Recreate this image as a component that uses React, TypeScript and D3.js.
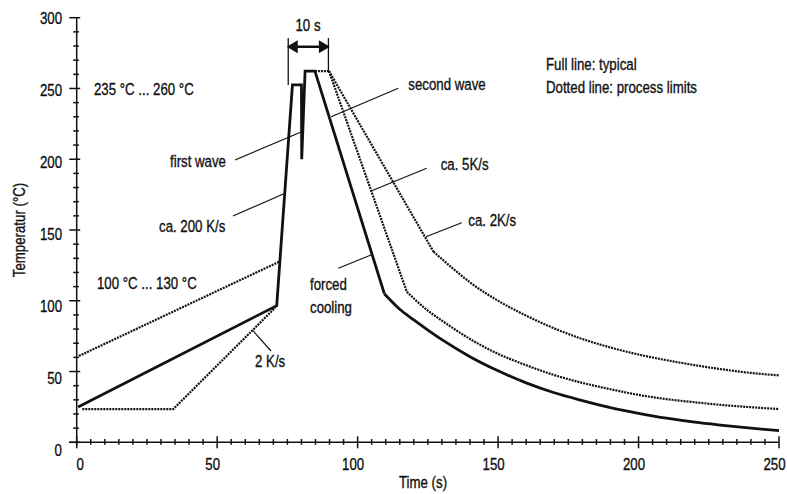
import React, { useEffect, useRef } from "react";
import * as d3 from "d3";

const WIDTH = 787;
const HEIGHT = 494;
const FONT = "'Liberation Sans', Arial, sans-serif";
const SQUEEZE = 0.78; // narrow look of the original lettering

const xTicks = [0, 50, 100, 150, 200, 250];
const yTicks = [0, 50, 100, 150, 200, 250, 300];

// full line: typical profile (preheat, first wave, second wave, forced cooling)
const typicalProfile: [number, number][] = [
  [0.5, 25], [71.2, 96.5], [76.8, 252.5], [80, 252.5], [80.1, 200],
  [81.3, 262.3], [84.8, 262.3], [109.5, 105],
];
const typicalCooling: [number, number][] = [
  [109.5, 105], [115, 94], [120, 86.5], [130, 72.5], [140, 60.5], [150, 50.5],
  [160, 42], [170, 35], [180, 29.5], [190, 24.5], [200, 20.5], [210, 17],
  [220, 14.2], [230, 12], [240, 10], [250, 8.2],
];

// dotted lines: process limits
const upperPreheat: [number, number][] = [[0.8, 61], [72, 127.5]];
const lowerPreheat: [number, number][] = [[2, 23.5], [34.4, 23.5], [70.6, 95]];
const peakLimit: [number, number][] = [[84.8, 262.3], [89.8, 262.3]];
const fastDrop: [number, number][] = [[89.8, 262.3], [117.5, 106.4]];
const fastCooling: [number, number][] = [
  [117.5, 106.4], [125, 93], [130, 86], [140, 73], [150, 62.5], [160, 54.5],
  [170, 47.5], [180, 42], [190, 37.5], [200, 33.5], [210, 30.5], [220, 28.3],
  [230, 26.3], [240, 24.8], [250, 23.5],
];
const slowDrop: [number, number][] = [[89.8, 262.3], [127, 134.7]];
const slowCooling: [number, number][] = [
  [127, 134.7], [135, 121], [140, 113], [150, 100], [160, 89.5], [170, 80.5],
  [180, 73], [190, 67], [200, 62], [210, 58], [220, 54.5], [230, 51.5],
  [240, 49], [250, 47.3],
];

// 10 s bracket, in seconds
const bracketStart = 75.3;
const bracketEnd = 89.6;

export default function App() {
  const ref = useRef<SVGSVGElement | null>(null);

  useEffect(() => {
    const svg = d3.select(ref.current);
    svg.selectAll("*").remove();

    const x = d3.scaleLinear().domain([0, 250]).range([76.7, 779]);
    const y = d3.scaleLinear().domain([0, 300]).range([442.3, 17.7]);
    const yLabel = d3.scaleLinear().domain([0, 300]).range([450, 18.2]);

    const ink = "#111";

    // axes
    const axes = svg.append("g").attr("stroke", ink).attr("stroke-width", 1.5);
    axes.append("line").attr("x1", x(0)).attr("x2", x(0)).attr("y1", y(300)).attr("y2", y(0) + 3);
    axes.append("line").attr("x1", x(0) - 7.5).attr("x2", x(250)).attr("y1", y(0)).attr("y2", y(0));

    const yMinor = d3.range(0, 301, 10).filter(v => v % 50 !== 0);
    const xMinor = d3.range(0, 251, 5).filter(v => v % 50 !== 0);

    axes.selectAll(".ymaj").data(yTicks).join("line")
      .attr("class", "ymaj")
      .attr("x1", x(0) - 7.5).attr("x2", x(0) + 3.5)
      .attr("y1", d => y(d)).attr("y2", d => y(d));
    axes.selectAll(".ymin").data(yMinor).join("line")
      .attr("class", "ymin")
      .attr("x1", x(0) - 3.5).attr("x2", x(0) + 2.2)
      .attr("y1", d => y(d)).attr("y2", d => y(d));
    axes.selectAll(".xmaj").data(xTicks).join("line")
      .attr("class", "xmaj")
      .attr("x1", d => x(d)).attr("x2", d => x(d))
      .attr("y1", y(0) - 6).attr("y2", y(0) + 6);
    axes.selectAll(".xmin").data(xMinor).join("line")
      .attr("class", "xmin")
      .attr("x1", d => x(d)).attr("x2", d => x(d))
      .attr("y1", y(0) - 3.3).attr("y2", y(0) + 2.5);

    const text = svg.append("g")
      .attr("font-family", FONT)
      .attr("font-size", 17)
      .attr("fill", ink)
      .attr("stroke", ink)
      .attr("stroke-width", 0.35);

    const label = (str: string | number, px: number, py: number, anchor = "start", rotate = 0) =>
      text.append("text")
        .attr("transform", `translate(${px},${py})${rotate ? ` rotate(${rotate})` : ""} scale(${SQUEEZE},1)`)
        .attr("text-anchor", anchor)
        .text(str);

    yTicks.forEach(v => label(v, 62, yLabel(v), "end").attr("dy", "0.36em"));
    xTicks.forEach(v => label(v, v === 0 ? x(v) + 3.5 : x(v) - 4.5, 470, "middle"));

    label("Time (s)", 423, 488, "middle");
    label("Temperatur (°C)", 25, 230, "middle", -90);

    // curves
    const line = d3.line<[number, number]>().x(d => x(d[0])).y(d => y(d[1]));
    const smooth = d3.line<[number, number]>().x(d => x(d[0])).y(d => y(d[1])).curve(d3.curveMonotoneX);

    const solid = svg.append("g").attr("fill", "none").attr("stroke", ink)
      .attr("stroke-width", 2.8).attr("stroke-linejoin", "miter");
    solid.append("path").attr("d", line(typicalProfile));
    solid.append("path").attr("d", smooth(typicalCooling));

    const dotted = svg.append("g").attr("fill", "none").attr("stroke", ink)
      .attr("stroke-width", 2.2).attr("stroke-dasharray", "2,1");
    [upperPreheat, lowerPreheat, peakLimit, fastDrop, slowDrop].forEach(s =>
      dotted.append("path").attr("d", line(s)));
    [fastCooling, slowCooling].forEach(s =>
      dotted.append("path").attr("d", smooth(s)));

    // 10 s bracket
    const br = svg.append("g").attr("stroke", ink).attr("stroke-width", 1.3);
    br.append("line").attr("x1", x(bracketStart)).attr("x2", x(bracketStart)).attr("y1", 38).attr("y2", y(252.5));
    br.append("line").attr("x1", x(bracketEnd)).attr("x2", x(bracketEnd)).attr("y1", 38).attr("y2", y(262.3));
    br.append("line").attr("x1", x(bracketStart) + 4).attr("x2", x(bracketEnd) - 4)
      .attr("y1", 46.7).attr("y2", 46.7).attr("stroke-width", 2.4);
    const l0 = x(bracketStart) - 1.5, r0 = x(bracketEnd) + 1.5;
    svg.append("polygon").attr("fill", ink)
      .attr("points", `${l0},46.7 ${l0 + 11},40.2 ${l0 + 11},53.2`);
    svg.append("polygon").attr("fill", ink)
      .attr("points", `${r0},46.7 ${r0 - 11},40.2 ${r0 - 11},53.2`);
    label("10 s", 308, 31, "middle");

    // leader lines
    const leaders = [
      [235, 160, x(80.1), 131.7],
      [233, 216, 284.5, 193.5],
      [398.3, 88.3, 331.2, 116.7],
      [338.3, 268.3, 371, 255],
      [426.7, 168.3, 371.7, 190.7],
      [461.7, 222.7, 426, 236.7],
      [271, 351, 253, 330.7],
    ];
    svg.append("g").attr("stroke", ink).attr("stroke-width", 1.2)
      .selectAll("line").data(leaders).join("line")
      .attr("x1", d => d[0]).attr("y1", d => d[1])
      .attr("x2", d => d[2]).attr("y2", d => d[3]);

    const notes: [string, number, number][] = [
      ["235 °C ... 260 °C", 94, 95],
      ["first wave", 170, 166.7],
      ["ca. 200 K/s", 159, 232],
      ["100 °C ... 130 °C", 97, 289.3],
      ["2 K/s", 255, 367.3],
      ["forced", 310, 290],
      ["cooling", 310, 312.5],
      ["second wave", 408.3, 90],
      ["ca. 5K/s", 440.7, 170],
      ["ca. 2K/s", 468.3, 225.7],
      ["Full line: typical", 546, 70],
      ["Dotted line: process limits", 546, 92.7],
    ];
    notes.forEach(([str, px, py]) => label(str, px, py));
  }, []);

  return (
    <svg ref={ref} width={WIDTH} height={HEIGHT}
      style={{ position: "absolute", left: 0, top: 0, background: "#fff" }} />
  );
}
